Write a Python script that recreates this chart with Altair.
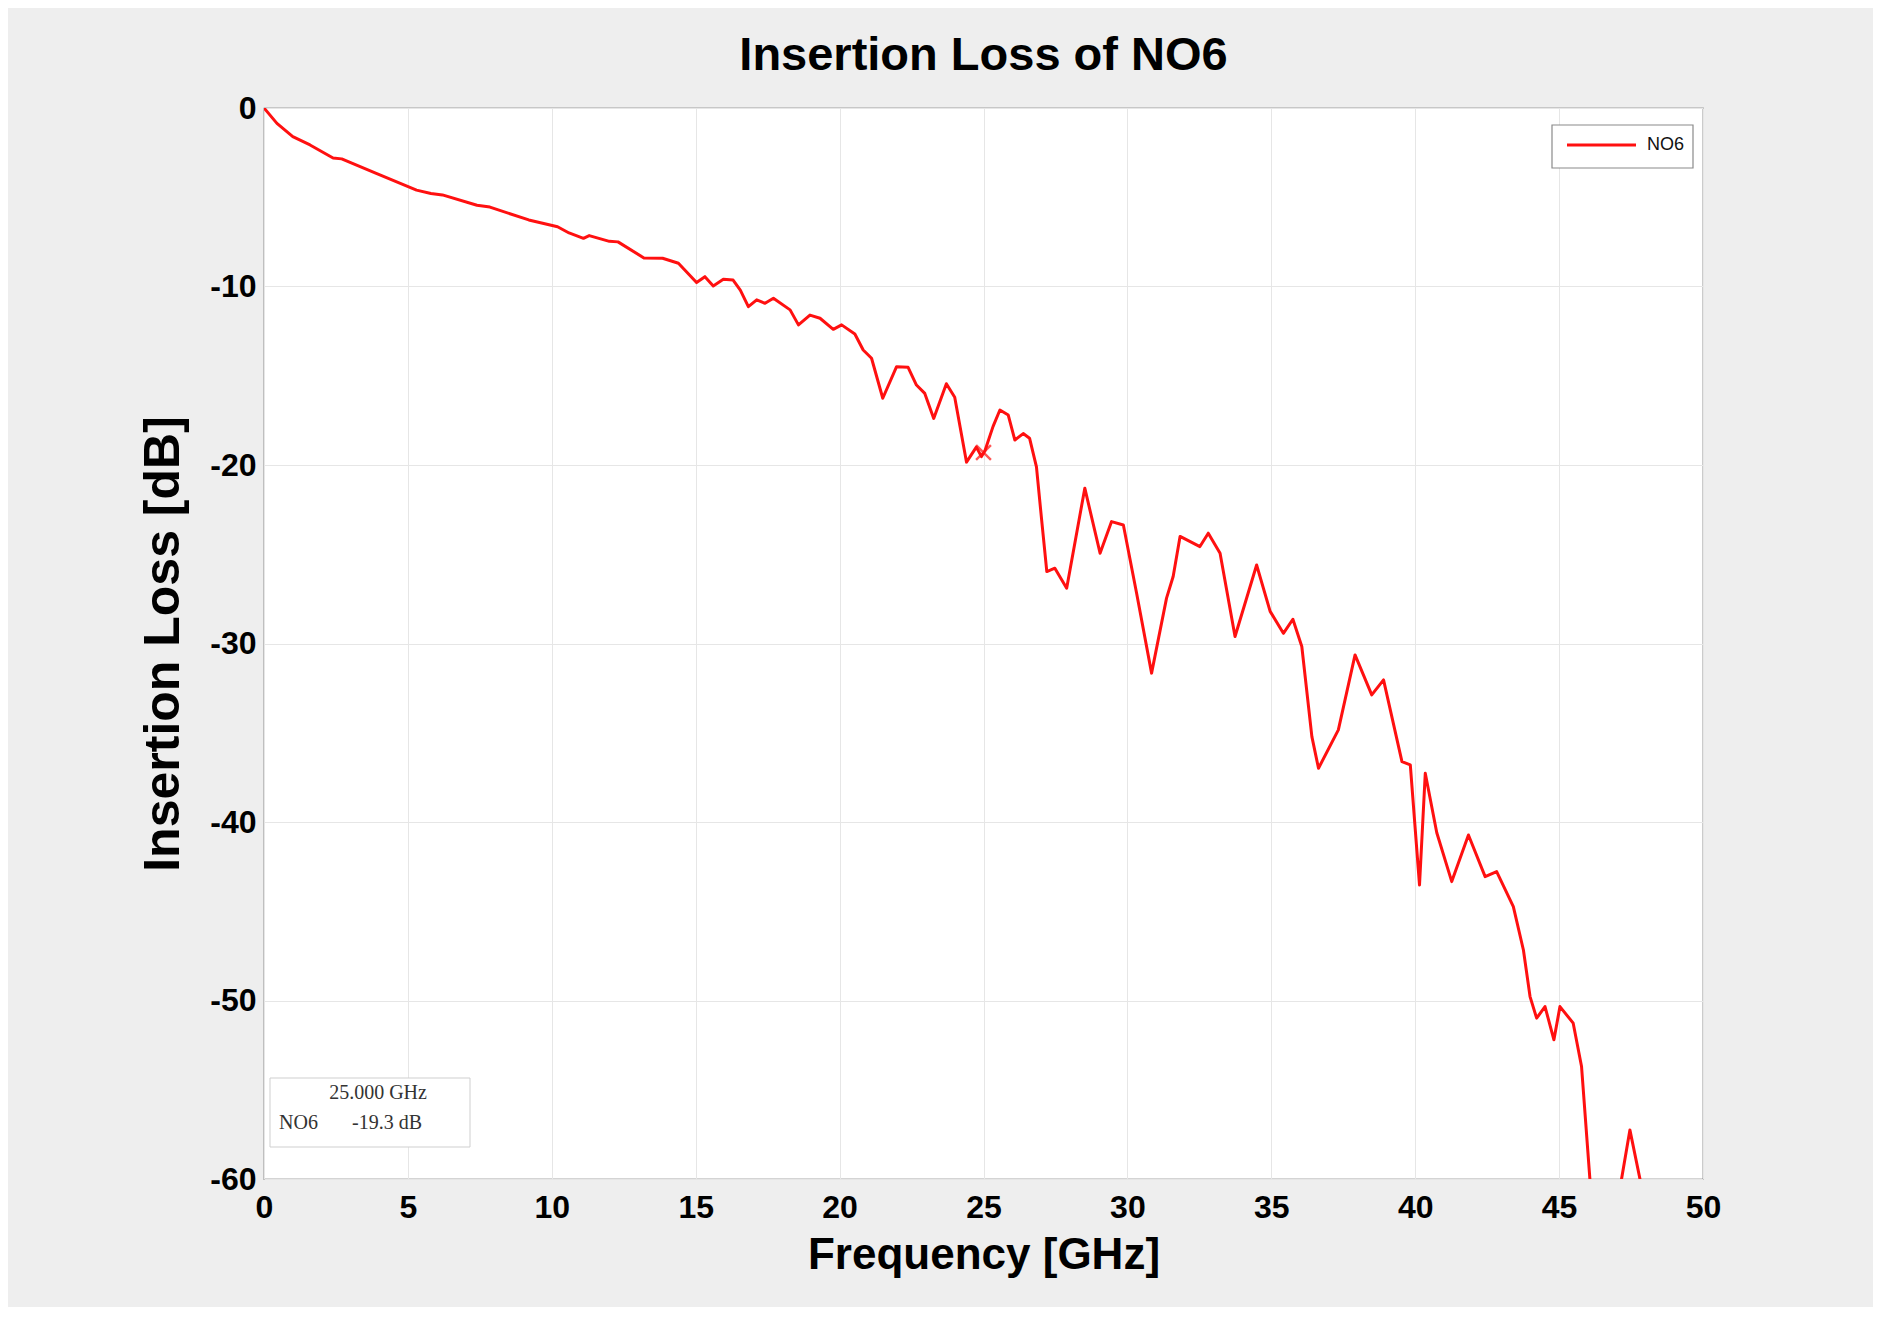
import altair as alt
import pandas as pd

# ---- data ----
freq_ghz = [0.0, 0.45, 1.0, 1.6, 2.4, 2.7, 3.9, 5.3, 5.8, 6.2, 7.4, 7.85, 9.2, 10.2, 10.6,
            11.1, 11.3, 12.0, 12.3, 13.2, 13.85, 14.4, 15.03, 15.32, 15.61, 15.96, 16.3,
            16.55, 16.83, 17.12, 17.41, 17.70, 18.28, 18.57, 18.97, 19.32, 19.78, 20.07,
            20.53, 20.82, 21.11, 21.5, 21.98, 22.38, 22.67, 22.96, 23.27, 23.71, 24.0,
            24.41, 24.75, 24.93, 25.05, 25.33, 25.57, 25.86, 26.09, 26.38, 26.6, 26.84,
            27.02, 27.2, 27.48, 27.89, 28.52, 29.05, 29.45, 29.86, 30.32, 30.84, 31.36,
            31.59, 31.83, 32.52, 32.81, 33.22, 33.74, 34.49, 34.96, 35.42, 35.75, 36.06,
            36.41, 36.64, 37.33, 37.91, 38.49, 38.9, 39.54, 39.83, 40.15, 40.35, 40.75,
            41.27, 41.85, 42.43, 42.83, 43.41, 43.76, 43.99, 44.22, 44.51, 44.82, 45.03,
            45.49, 45.78, 46.07, 46.4, 46.8, 47.17, 47.46, 47.81, 48.2]
loss_db = [0.0, -0.86, -1.6, -2.07, -2.8, -2.85, -3.66, -4.6, -4.79, -4.87, -5.45, -5.55,
           -6.27, -6.65, -7.0, -7.3, -7.15, -7.47, -7.5, -8.4, -8.42, -8.7, -9.78, -9.45,
           -9.97, -9.6, -9.64, -10.2, -11.13, -10.75, -10.94, -10.66, -11.31, -12.15,
           -11.6, -11.78, -12.4, -12.15, -12.66, -13.56, -14.02, -16.26, -14.49, -14.53,
           -15.52, -15.99, -17.39, -15.45, -16.2, -19.84, -19.0, -19.53, -19.2, -17.85,
           -16.92, -17.2, -18.6, -18.24, -18.5, -20.1, -23.08, -25.97, -25.78, -26.9,
           -21.3, -24.94, -23.17, -23.36, -27.18, -31.66, -27.46, -26.25, -24.0, -24.57,
           -23.82, -24.94, -29.61, -25.6, -28.2, -29.43, -28.64, -30.17, -35.22, -36.99,
           -34.84, -30.64, -32.88, -32.04, -36.62, -36.8, -43.53, -37.27, -40.6, -43.34,
           -40.73, -43.06, -42.78, -44.74, -47.17, -49.78, -50.99, -50.34, -52.2, -50.34,
           -51.27, -53.7, -60.0, -66.0, -64.0, -60.0, -57.25, -60.0, -65.0]
series_name = "NO6"
marker_freq = 25.0
marker_db = -19.3

x_ticks = [0, 5, 10, 15, 20, 25, 30, 35, 40, 45, 50]
y_ticks = [0, -10, -20, -30, -40, -50, -60]

SANS = "Liberation Sans, Arial, Helvetica, sans-serif"
SERIF = "Liberation Serif, Times New Roman, serif"
RED = "#ff1010"

df = pd.DataFrame({"freq": freq_ghz, "loss": loss_db, "series": series_name})
mk = pd.DataFrame({"freq": [marker_freq], "loss": [marker_db],
                   "head": [f"{marker_freq:.3f} GHz"], "name": [series_name],
                   "val": [f"{marker_db:.1f} dB"]})

W, H = 1439, 1071

xscale = alt.Scale(domain=[0, 50], nice=False, zero=False)
yscale = alt.Scale(domain=[-60, 0], nice=False, zero=False)

xaxis = alt.Axis(values=x_ticks, title="Frequency [GHz]", grid=True, ticks=False,
                 labelPadding=13, titlePadding=10, labelFont=SANS, labelFontSize=32,
                 labelFontWeight="bold", labelColor="#000", titleFont=SANS,
                 titleFontSize=44, titleFontWeight="bold", titleColor="#000",
                 domain=False, gridColor="#e6e6e6", labelFlush=False)
yaxis = alt.Axis(values=y_ticks, title="Insertion Loss [dB]", grid=True, ticks=False,
                 labelPadding=8, labelFont=SANS, labelFontSize=32,
                 labelFontWeight="bold", labelColor="#000", titleFont=SANS,
                 labelExpr="datum.value == 0 ? '0' : '-' + abs(datum.value)",
                 titleFontSize=50, titleFontWeight="bold", titleColor="#000",
                 titleX=-101, titleY=H / 2, titleAngle=270, titleBaseline="middle",
                 titleAlign="center", domain=False, gridColor="#e6e6e6", labelFlush=False)

line = alt.Chart(df).mark_line(clip=True, strokeWidth=3, strokeJoin="round").encode(
    x=alt.X("freq:Q", scale=xscale, axis=xaxis),
    y=alt.Y("loss:Q", scale=yscale, axis=yaxis),
    color=alt.Color("series:N", scale=alt.Scale(domain=[series_name], range=[RED]),
                    legend=None),
)

marker = alt.Chart(mk).mark_point(shape="M-1,-1L1,1M-1,1L1,-1", size=220, filled=False,
                                  strokeWidth=2.4, color=RED).encode(
    x=alt.X("freq:Q", scale=xscale), y=alt.Y("loss:Q", scale=yscale))

# legend box (top right)
leg_box = alt.Chart(mk).mark_rect(fill="white", stroke="#8a8a8a", strokeWidth=1.2).encode(
    x=alt.value(1288), x2=alt.value(1429), y=alt.value(17), y2=alt.value(60))
leg_line = alt.Chart(mk).mark_rule(color=RED, strokeWidth=3).encode(
    x=alt.value(1303), x2=alt.value(1372), y=alt.value(37))
leg_text = alt.Chart(mk).mark_text(font=SANS, fontSize=18, color="#111", align="left",
                                   baseline="middle").encode(
    x=alt.value(1383), y=alt.value(37), text="name:N")

# data-tip box (bottom left)
tip_box = alt.Chart(mk).mark_rect(fill="white", stroke="#cfcfcf", strokeWidth=1).encode(
    x=alt.value(6), x2=alt.value(206), y=alt.value(970), y2=alt.value(1039))
tip_head = alt.Chart(mk).mark_text(font=SERIF, fontSize=20, color="#333", align="center",
                                   baseline="middle").encode(
    x=alt.value(114), y=alt.value(985), text="head:N")
tip_name = alt.Chart(mk).mark_text(font=SERIF, fontSize=20, color="#333", align="left",
                                   baseline="middle").encode(
    x=alt.value(15), y=alt.value(1015), text="name:N")
tip_val = alt.Chart(mk).mark_text(font=SERIF, fontSize=20, color="#333", align="left",
                                  baseline="middle").encode(
    x=alt.value(88), y=alt.value(1015), text="val:N")

chart = alt.layer(line, marker, leg_box, leg_line, leg_text,
                  tip_box, tip_head, tip_name, tip_val).properties(
    width=W, height=H,
    title=alt.TitleParams("Insertion Loss of NO6", font=SANS, fontSize=47,
                          fontWeight="bold", color="#000", anchor="middle", offset=20,
                          baseline="alphabetic", dy=45),
    autosize=alt.AutoSizeParams(type="none"),
    padding={"left": 256, "top": 100, "right": 170, "bottom": 128},
    background="#eeeeee",
).configure_view(fill="white", stroke="#555", strokeWidth=1.2)

chart.save("out.html", embed_options={"renderer": "svg", "actions": False})
